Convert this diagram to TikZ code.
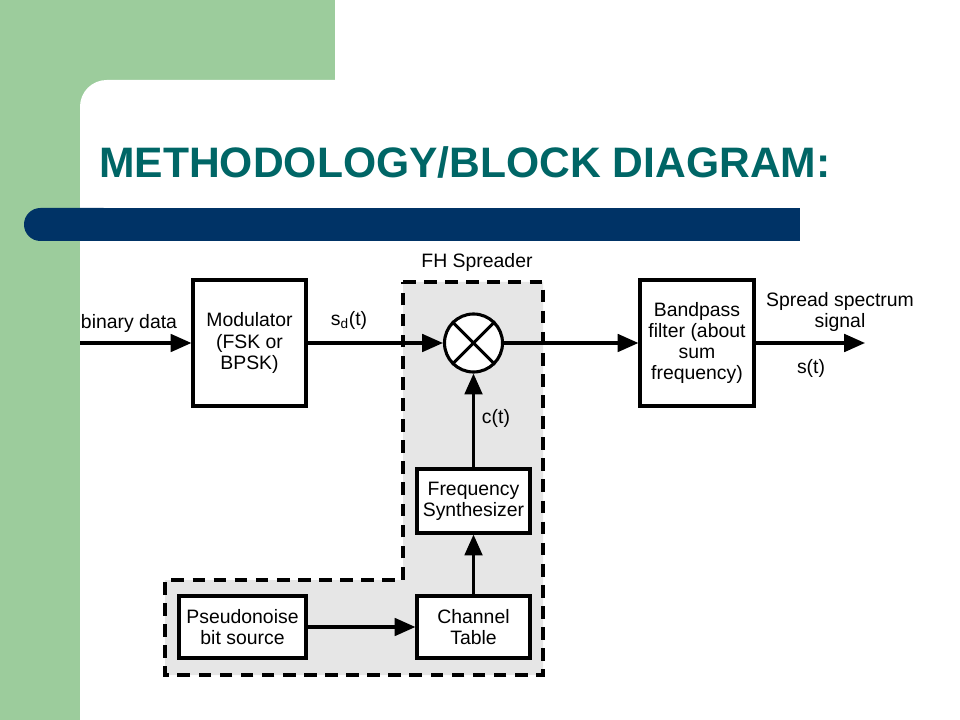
\documentclass[tikz,border=0pt]{standalone}
\usepackage{fontspec}
\setmainfont{Liberation Sans}
\usetikzlibrary{positioning}
\usetikzlibrary{arrows.meta,calc}

\definecolor{slidegreen}{RGB}{156,204,156}
\definecolor{barblue}{RGB}{0,51,102}
\definecolor{titleteal}{RGB}{0,102,102}
\definecolor{spreadgray}{RGB}{230,230,230}

\tikzset{
  blockbox/.style={draw,line width=2.2pt,fill=white,align=center,inner sep=1pt,
    font=\fontsize{13.8}{15}\selectfont},
  sigline/.style={line width=2.2pt,-{Triangle[length=0.52cm,width=0.44cm]}},
  lbl/.style={font=\fontsize{13.8}{15}\selectfont,align=center,inner sep=0pt},
}

\begin{document}
\begin{tikzpicture}[x=0.025cm,y=-0.025cm]
\useasboundingbox (0,0) rectangle (960,720);

%slide background
\fill[slidegreen](0,0) rectangle (335,110);
\fill[slidegreen](0,0) rectangle (80,720);
\fill[white,rounded corners=19pt](80,80) rectangle (600,600);
\fill[barblue,rounded corners=11.7pt](24,208) rectangle (120,241);
\fill[barblue](70,208) rectangle (800,241);

%title
\node[anchor=base west,inner sep=0pt,text=titleteal,
  font=\fontsize{30.3}{34}\selectfont\bfseries] (title) at (99,178) {METHODOLOGY/BLOCK DIAGRAM:};

%FH spreader region
\draw[fill=spreadgray,line width=2.2pt,dash pattern=on 9pt off 6pt]
  (403,282) -- (543,282) -- (543,675) -- (165,675) -- (165,580) -- (403,580) -- cycle;
\node[lbl] (fhlabel) at (477,262) {FH Spreader};

%blocks
\node[blockbox,minimum width=2.825cm,minimum height=3.15cm] (mod) at (249.5,343) {Modulator\\(FSK or\\BPSK)};
\node[draw,circle,line width=2.2pt,fill=white,minimum size=1.45cm,inner sep=0pt] (mix) at (473.5,343) {};
\draw[line width=2.2pt] (mix.45) -- (mix.225);
\draw[line width=2.2pt] (mix.135) -- (mix.-45);
\node[blockbox,minimum width=2.85cm,minimum height=3.15cm] (bpf) at (697,343) {Bandpass\\filter (about\\sum\\frequency)};
\node[blockbox,minimum width=2.825cm,minimum height=1.6cm] (synth) at (473.5,501) {Frequency\\Synthesizer};
\node[blockbox,minimum width=2.825cm,minimum height=1.55cm] (chan) at (473.5,627) {Channel\\Table};
\node[blockbox,minimum width=3.175cm,minimum height=1.55cm] (pn) at (242.5,627) {Pseudonoise\\bit source};

%connectors
\coordinate (in) at (80,343);
\coordinate (out) at (865,343);
\draw[sigline] (in) -- (mod);
\draw[sigline] (mod) -- (mix);
\draw[sigline] (mix) -- (bpf);
\draw[sigline] (bpf) -- (out);
\draw[sigline] (pn) -- (chan);
\draw[sigline] (chan) -- (synth);
\draw[sigline] (synth) -- (mix);

%signal labels
\node[lbl] (binlabel) at (129,323) {binary data};
\node[lbl] (sdlabel) at (349,320) {s\textsubscript{d}(t)};
\node[lbl] (ctlabel) at (496,418) {c(t)};
\node[lbl] (sslabel) at (840,312) {Spread spectrum\\signal};
\node[lbl] (stlabel) at (811,368) {s(t)};
\end{tikzpicture}
\end{document}
